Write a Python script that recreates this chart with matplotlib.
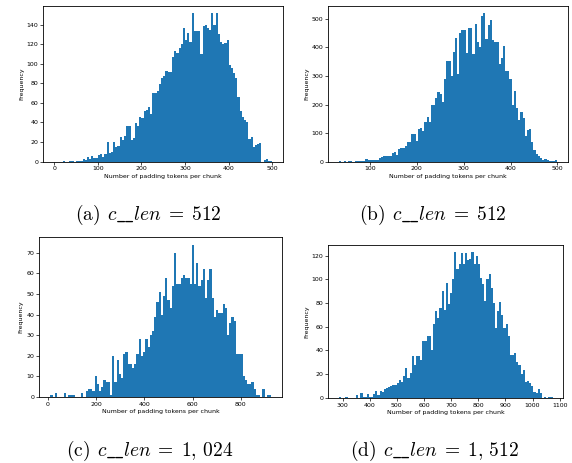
import numpy as np
import matplotlib.pyplot as plt
from matplotlib.ticker import MultipleLocator

plt.rcParams["mathtext.fontset"] = "cm"

# padding tokens per chunk: counts in 100 equal bins over each range
a_range = (0, 500)
a_counts = [0, 0, 0, 0, 1, 0, 0, 1, 1, 0, 1, 1, 1, 3, 2, 5, 3, 6, 4, 4,
            7, 8, 5, 8, 20, 9, 10, 20, 15, 16, 25, 22, 26, 36, 36, 22, 24, 39, 36, 46,
            45, 52, 53, 56, 49, 70, 70, 72, 79, 85, 88, 93, 92, 92, 107, 113, 111, 116, 120, 137,
            124, 132, 122, 152, 134, 134, 134, 110, 139, 140, 137, 135, 152, 140, 152, 130, 122, 120, 121, 124,
            99, 96, 91, 86, 66, 52, 46, 43, 40, 23, 25, 15, 17, 18, 19, 0, 2, 3, 1, 1]

b_range = (35, 500)
b_counts = [1, 0, 1, 0, 1, 1, 0, 1, 1, 1, 2, 1, 8, 5, 4, 5, 5, 6, 12, 15,
            18, 18, 20, 20, 29, 33, 24, 44, 47, 48, 55, 69, 69, 97, 97, 72, 113, 117, 106, 140,
            157, 139, 199, 199, 222, 245, 236, 210, 290, 353, 353, 300, 385, 435, 307, 451, 461, 461, 380, 469,
            469, 376, 482, 421, 400, 512, 521, 430, 479, 496, 426, 420, 420, 341, 364, 405, 318, 318, 290, 200,
            248, 187, 146, 175, 152, 90, 111, 114, 70, 39, 27, 18, 12, 6, 9, 5, 3, 3, 2, 5]

c_range = (11, 926)
c_counts = [1, 0, 2, 0, 0, 0, 2, 0, 1, 1, 1, 0, 0, 0, 2, 0, 3, 4, 4, 3,
            10, 6, 3, 5, 8, 7, 7, 1, 20, 7, 18, 11, 9, 21, 22, 16, 16, 14, 16, 21,
            28, 20, 22, 28, 24, 30, 32, 39, 46, 51, 40, 49, 58, 47, 43, 54, 70, 55, 55, 58,
            59, 58, 58, 55, 74, 55, 65, 54, 57, 62, 48, 57, 62, 48, 39, 42, 41, 41, 45, 43,
            30, 36, 39, 37, 21, 21, 21, 10, 8, 6, 6, 7, 4, 1, 1, 0, 4, 0, 1, 1]

d_range = (287, 1074)
d_counts = [1, 0, 0, 1, 0, 0, 0, 0, 2, 0, 4, 1, 1, 3, 1, 1, 3, 6, 2, 6,
            5, 7, 8, 9, 10, 11, 11, 12, 15, 13, 18, 25, 17, 21, 35, 28, 35, 35, 32, 48,
            48, 52, 52, 40, 62, 73, 67, 76, 90, 74, 97, 79, 88, 100, 123, 109, 113, 122, 113, 122,
            116, 117, 123, 113, 120, 113, 101, 96, 82, 100, 104, 93, 80, 59, 73, 81, 70, 59, 62, 52,
            36, 36, 38, 30, 28, 20, 23, 13, 14, 12, 10, 5, 4, 7, 4, 0, 1, 0, 1, 1]

captions = [r"$\mathrm{(a)}\;\,c\_\!\_len\;=\;512$",
            r"$\mathrm{(b)}\;\,c\_\!\_len\;=\;512$",
            r"$\mathrm{(c)}\;\,c\_\!\_len\;=\;1,\,024$",
            r"$\mathrm{(d)}\;\,c\_\!\_len\;=\;1,\,512$"]

fig = plt.figure(figsize=(5.72, 4.63), dpi=100)

panels = [
    # counts, range, axes rect, x step, y step, caption pos
    (a_counts, a_range, [0.0757, 0.651, 0.4196, 0.337], 100, 20, (0.259, 0.535)),
    (b_counts, b_range, [0.574, 0.651, 0.4196, 0.337], 100, 100, (0.757, 0.535)),
    (c_counts, c_range, [0.0687, 0.143, 0.4248, 0.345], 200, 10, (0.262, 0.026)),
    (d_counts, d_range, [0.574, 0.141, 0.4108, 0.3305], 100, 20, (0.760, 0.026)),
]

for (counts, rng, rect, xstep, ystep, cpos), cap in zip(panels, captions):
    ax = fig.add_axes(rect)
    edges = np.linspace(rng[0], rng[1], len(counts) + 1)
    ax.hist(edges[:-1], bins=edges, weights=counts, color="#1f77b4")
    ax.xaxis.set_major_locator(MultipleLocator(xstep))
    ax.yaxis.set_major_locator(MultipleLocator(ystep))
    ax.tick_params(labelsize=4.5, width=0.5, length=2, pad=1.5)
    ax.set_xlabel("Number of padding tokens per chunk", fontsize=4.5, labelpad=1.5)
    ax.set_ylabel("Frequency", fontsize=4.5, labelpad=2)
    for s in ax.spines.values():
        s.set_linewidth(0.6)
    fig.text(cpos[0], cpos[1], cap, ha="center", va="center", fontsize=14)

fig.savefig("out.png", dpi=100)
